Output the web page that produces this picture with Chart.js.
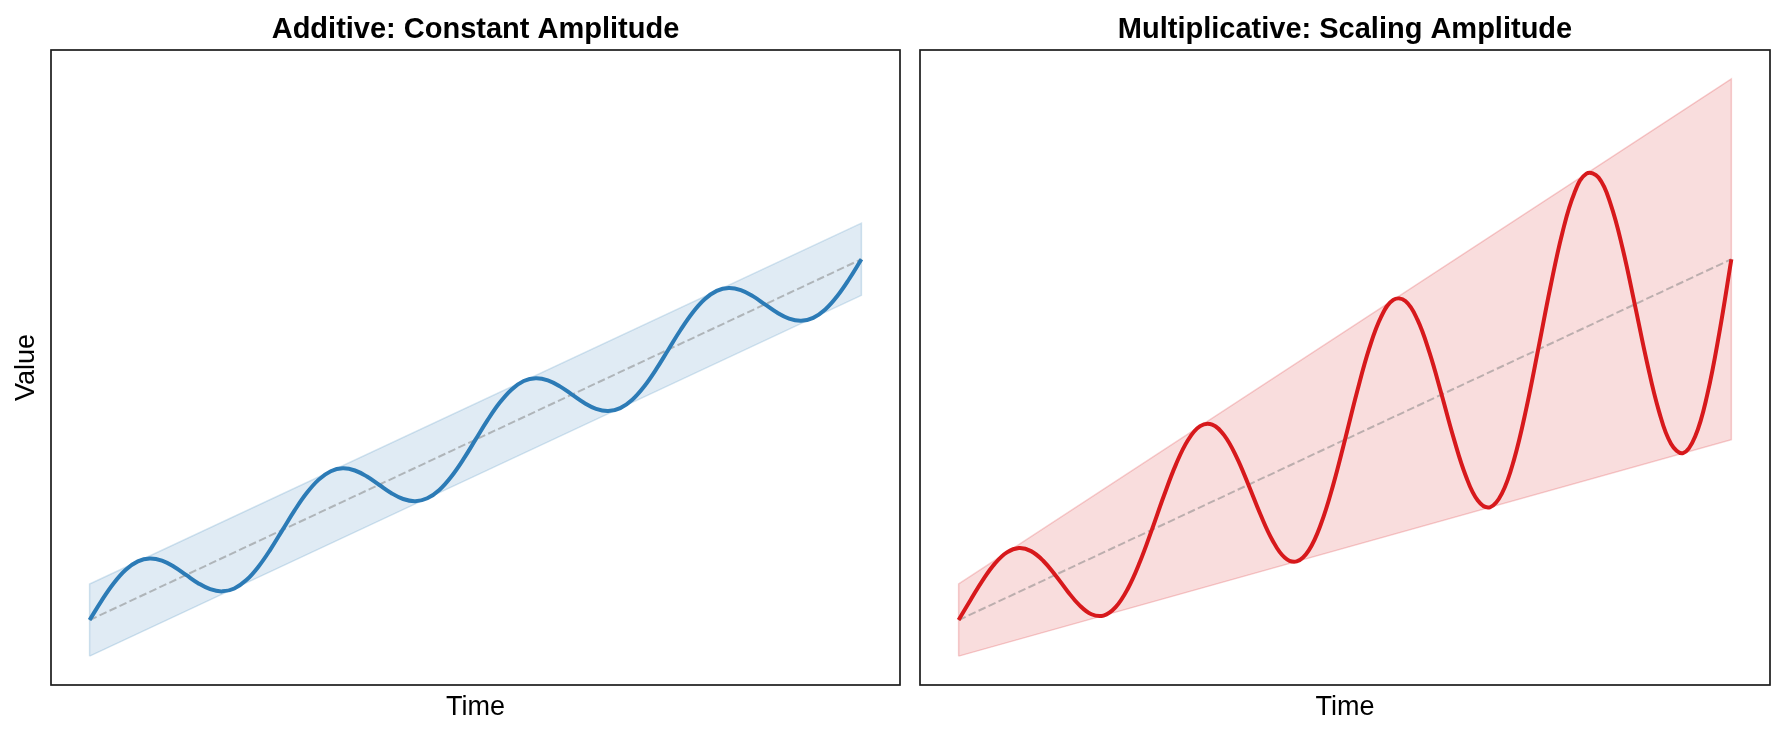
<!DOCTYPE html>
<html>
<head>
<meta charset="utf-8">
<script src="https://cdn.jsdelivr.net/npm/chart.js@4.4.1/dist/chart.umd.min.js"></script>
<style>
  html, body { margin: 0; padding: 0; background: #fff; }
  #wrap { position: relative; width: 1786px; height: 737px; overflow: hidden; }
  #wrap canvas { position: absolute; top: 0; }
</style>
</head>
<body>
<div id="wrap">
  <canvas id="addChart" width="910" height="737" style="left:0"></canvas>
  <canvas id="mulChart" width="876" height="737" style="left:910px"></canvas>
</div>
<script>
// time samples shared by both panels
const time = [
  0, 0.25, 0.5, 0.75, 1, 1.25, 1.5, 1.75, 2, 2.25, 2.5, 2.75, 3, 3.25, 3.5, 3.75,
  4, 4.25, 4.5, 4.75, 5, 5.25, 5.5, 5.75, 6, 6.25, 6.5, 6.75, 7, 7.25, 7.5, 7.75,
  8, 8.25, 8.5, 8.75, 9, 9.25, 9.5, 9.75, 10, 10.25, 10.5, 10.75, 11, 11.25, 11.5, 11.75,
  12, 12.25, 12.5, 12.75, 13, 13.25, 13.5, 13.75, 14, 14.25, 14.5, 14.75, 15, 15.25, 15.5, 15.75,
  16
];

const additive = [
  10.00, 12.16, 14.08, 15.57, 16.50, 16.82, 16.58, 15.91, 15.00, 14.09, 13.42, 13.18, 13.50, 14.43, 15.92, 17.84,
  20.00, 22.16, 24.08, 25.57, 26.50, 26.82, 26.58, 25.91, 25.00, 24.09, 23.42, 23.18, 23.50, 24.43, 25.92, 27.84,
  30.00, 32.16, 34.08, 35.57, 36.50, 36.82, 36.58, 35.91, 35.00, 34.09, 33.42, 33.18, 33.50, 34.43, 35.92, 37.84,
  40.00, 42.16, 44.08, 45.57, 46.50, 46.82, 46.58, 45.91, 45.00, 44.09, 43.42, 43.18, 43.50, 44.43, 45.92, 47.84,
  50.00
];

const multiplicative = [
  10.00, 12.25, 14.43, 16.26, 17.50, 17.98, 17.64, 16.58, 15.00, 13.23, 11.65, 10.64, 10.50, 11.43, 13.45, 16.41,
  20.00, 23.78, 27.26, 29.96, 31.50, 31.67, 30.47, 28.11, 25.00, 21.70, 18.83, 16.94, 16.50, 17.73, 20.62, 24.88,
  30.00, 35.31, 40.09, 43.65, 45.50, 45.37, 43.30, 39.64, 35.00, 30.17, 26.00, 23.25, 22.50, 24.04, 27.79, 33.35,
  40.00, 46.84, 52.92, 57.35, 59.50, 59.06, 56.12, 51.17, 45.00, 38.64, 33.17, 29.55, 28.50, 30.34, 34.96, 41.82,
  50.00
];

// straight trend and envelope ends (start, end)
const edgeTime = [0, 16];
const trend = [10, 50];
const addUpper = [14, 54];
const addLower = [6, 46];
const mulUpper = [14, 70];
const mulLower = [6, 30];

const FONT = '"Liberation Sans", Arial, Helvetica, sans-serif';
const X_MIN = -0.8, X_MAX = 16.8;
const Y_MIN = 2.8, Y_MAX = 73.2;

const framePlugin = {
  id: 'frame',
  afterDraw(chart) {
    const { ctx, chartArea: a } = chart;
    ctx.save();
    ctx.strokeStyle = '#1c1c1c';
    ctx.lineWidth = 1.7;
    ctx.strokeRect(a.left, a.top, a.right - a.left, a.bottom - a.top);
    ctx.restore();
  }
};

const pts = (xs, ys) => xs.map((x, i) => ({ x, y: ys[i] }));

// closed envelope: lower edge forward, upper edge back
function envelope(upper, lower) {
  return [
    ...pts(edgeTime, lower),
    ...pts(edgeTime, upper).reverse(),
    { x: edgeTime[0], y: lower[0] }
  ];
}

function makeChart(id, opts) {
  return new Chart(document.getElementById(id), {
    type: 'line',
    data: {
      datasets: [
        {
          data: pts(time, opts.values), order: 0,
          borderColor: opts.color, borderWidth: 4, pointRadius: 0,
          tension: 0.4, fill: false, borderCapStyle: 'butt'
        },
        {
          data: pts(edgeTime, trend), order: 1,
          borderColor: 'rgba(128,128,128,0.5)', borderWidth: 2, borderDash: [7.7, 3.3],
          pointRadius: 0, fill: false, tension: 0
        },
        {
          data: envelope(opts.upper, opts.lower), order: 2,
          borderColor: opts.edge, borderWidth: 1.5, backgroundColor: opts.band,
          pointRadius: 0, fill: 'shape', tension: 0
        }
      ]
    },
    options: {
      responsive: false,
      animation: false,
      events: [],
      layout: { padding: opts.padding },
      plugins: {
        legend: { display: false },
        tooltip: { enabled: false },
        title: {
          display: true, text: opts.title, color: '#000', fullSize: false,
          font: { family: FONT, size: 29, weight: 'bold', lineHeight: 1.2 },
          padding: { top: 12.5, bottom: 2.7 }
        }
      },
      scales: {
        x: {
          type: 'linear', min: X_MIN, max: X_MAX,
          ticks: { display: false },
          grid: { display: false, drawTicks: false },
          border: { display: false },
          title: {
            display: true, text: 'Time', color: '#000',
            font: { family: FONT, size: 27, lineHeight: 1.2 },
            padding: { top: 6.8, bottom: 12.8 }
          }
        },
        y: {
          type: 'linear', min: Y_MIN, max: Y_MAX,
          display: opts.showY,
          ticks: { display: false },
          grid: { display: false, drawTicks: false },
          border: { display: false },
          title: {
            display: true, text: 'Value', color: '#000',
            font: { family: FONT, size: 27, lineHeight: 1.2 },
            padding: { top: 10.8, bottom: 7.8 }
          }
        }
      }
    },
    plugins: [framePlugin]
  });
}

makeChart('addChart', {
  title: 'Additive: Constant Amplitude',
  values: additive, upper: addUpper, lower: addLower,
  color: '#2c7bb6', band: 'rgba(44,123,182,0.15)', edge: 'rgba(44,123,182,0.2)',
  showY: true,
  padding: { left: 0, right: 10, top: 0, bottom: 0 }
});

makeChart('mulChart', {
  title: 'Multiplicative: Scaling Amplitude',
  values: multiplicative, upper: mulUpper, lower: mulLower,
  color: '#d7191c', band: 'rgba(215,25,28,0.15)', edge: 'rgba(215,25,28,0.2)',
  showY: false,
  padding: { left: 10, right: 16, top: 0, bottom: 0 }
});
</script>
</body>
</html>
